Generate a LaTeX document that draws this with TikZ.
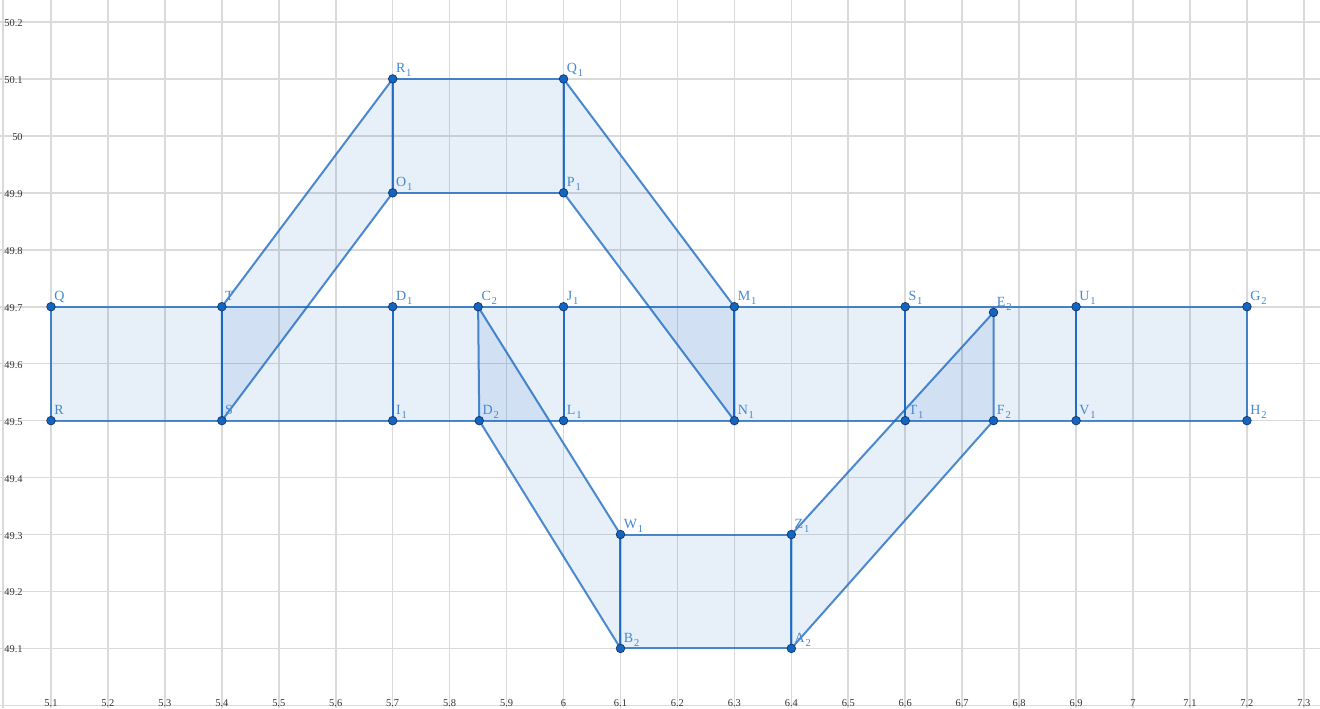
\documentclass[tikz,border=0pt]{standalone}
\usepackage{fontspec}
\setmainfont{Liberation Serif}
\usetikzlibrary{calc}
\definecolor{ggb}{RGB}{21,101,192}
\definecolor{ptedge}{RGB}{15,55,110}
\definecolor{lbl}{RGB}{70,136,206}
\definecolor{gridc}{RGB}{218,218,218}
\newcommand{\sbx}[1]{\hspace{0.4pt}\raisebox{-2.1pt}{\fontsize{5.3}{5}\selectfont #1}}
\tikzset{
  gridline/.style={draw=gridc,line width=0.8pt},
  region/.style={fill=ggb,fill opacity=0.1,draw=ggb,draw opacity=0.75,line width=1pt,line join=round},
  pt/.style={circle,fill=ggb,draw=ptedge,line width=0.35pt,minimum size=4.3pt,inner sep=0pt},
  ptlabel/.style={anchor=base west,inner sep=0pt,text=lbl,font=\fontsize{7}{8}\selectfont},
  yticklabel/.style={anchor=east,inner sep=0pt,font=\fontsize{5.2}{6}\selectfont,text=black!80},
  xticklabel/.style={anchor=base,inner sep=0pt,font=\fontsize{5.2}{6}\selectfont,text=black!80}
}
\begin{document}
\begin{tikzpicture}[x=1cm,y=1cm]
\useasboundingbox (-0.8955,-5.053) rectangle (22.283,7.386);
\fill[white] (-0.8955,-5.053) rectangle (22.283,7.386);
% grid
\foreach \i in {0,...,22} \draw[gridline] (\i,-5.053) -- (\i,7.386);
\foreach \j in {-5,...,7} \draw[gridline] (-0.8955,\j) -- (22.283,\j);
\draw[gridline] (-0.843,-5.053) -- (-0.843,7.386);
% tick labels
\foreach \j/\t in {-4/49.1,-3/49.2,-2/49.3,-1/49.4,0/49.5,1/49.6,2/49.7,3/49.8,4/49.9,5/50,6/50.1,7/50.2}
  \node[yticklabel] (ty\j) at (-0.49,\j-0.02) {\t};
\foreach \i/\t in {0/5.1,1/5.2,2/5.3,3/5.4,4/5.5,5/5.6,6/5.7,7/5.8,8/5.9,9/6,10/6.1,11/6.2,12/6.3,13/6.4,14/6.5,15/6.6,16/6.7,17/6.8,18/6.9,19/7,20/7.1,21/7.2,22/7.3}
  \node[xticklabel] (tx\i) at (\i,-5.018) {\t};
% points
\coordinate (Q) at (0,2);
\coordinate (R) at (0,0);
\coordinate (T) at (3,2);
\coordinate (S) at (3,0);
\coordinate (D1) at (6,2);
\coordinate (I1) at (6,0);
\coordinate (C2) at (7.5,2);
\coordinate (D2) at (7.52,0);
\coordinate (J1) at (9,2);
\coordinate (L1) at (9,0);
\coordinate (M1) at (12,2);
\coordinate (N1) at (12,0);
\coordinate (S1) at (15,2);
\coordinate (T1) at (15,0);
\coordinate (E2) at (16.55,1.9);
\coordinate (F2) at (16.55,0);
\coordinate (U1) at (18,2);
\coordinate (V1) at (18,0);
\coordinate (G2) at (21,2);
\coordinate (H2) at (21,0);
\coordinate (R1) at (6,6);
\coordinate (Q1) at (9,6);
\coordinate (O1) at (6,4);
\coordinate (P1) at (9,4);
\coordinate (W1) at (10,-2);
\coordinate (Z1) at (13,-2);
\coordinate (B2) at (10,-4);
\coordinate (A2) at (13,-4);
% horizontal band
\path[region] (Q) -- (T) -- (S) -- (R) -- cycle;
\path[region] (T) -- (D1) -- (I1) -- (S) -- cycle;
\path[region] (D1) -- (J1) -- (L1) -- (I1) -- cycle;
\path[region] (J1) -- (M1) -- (N1) -- (L1) -- cycle;
\path[region] (M1) -- (S1) -- (T1) -- (N1) -- cycle;
\path[region] (S1) -- (U1) -- (V1) -- (T1) -- cycle;
\path[region] (U1) -- (G2) -- (H2) -- (V1) -- cycle;
% upper loop
\path[region] (T) -- (R1) -- (O1) -- (S) -- cycle;
\path[region] (R1) -- (Q1) -- (P1) -- (O1) -- cycle;
\path[region] (Q1) -- (M1) -- (N1) -- (P1) -- cycle;
% lower loop
\path[region] (C2) -- (W1) -- (B2) -- (D2) -- cycle;
\path[region] (W1) -- (Z1) -- (A2) -- (B2) -- cycle;
\path[region] (Z1) -- (E2) -- (F2) -- (A2) -- cycle;
% dots and labels
\foreach \n/\t in {Q/Q,R/R,T/T,S/S,D1/D\sbx{1},I1/I\sbx{1},C2/C\sbx{2},D2/D\sbx{2},J1/J\sbx{1},L1/L\sbx{1},M1/M\sbx{1},N1/N\sbx{1},S1/S\sbx{1},T1/T\sbx{1},E2/E\sbx{2},F2/F\sbx{2},U1/U\sbx{1},V1/V\sbx{1},G2/G\sbx{2},H2/H\sbx{2},R1/R\sbx{1},Q1/Q\sbx{1},O1/O\sbx{1},P1/P\sbx{1},W1/W\sbx{1},Z1/Z\sbx{1},B2/B\sbx{2},A2/A\sbx{2}}{
  \node[pt] (p\n) at (\n) {};
  \node[ptlabel] (l\n) at ($(\n)+(1.5pt,3.1pt)$) {\t};
}
\end{tikzpicture}
\end{document}
